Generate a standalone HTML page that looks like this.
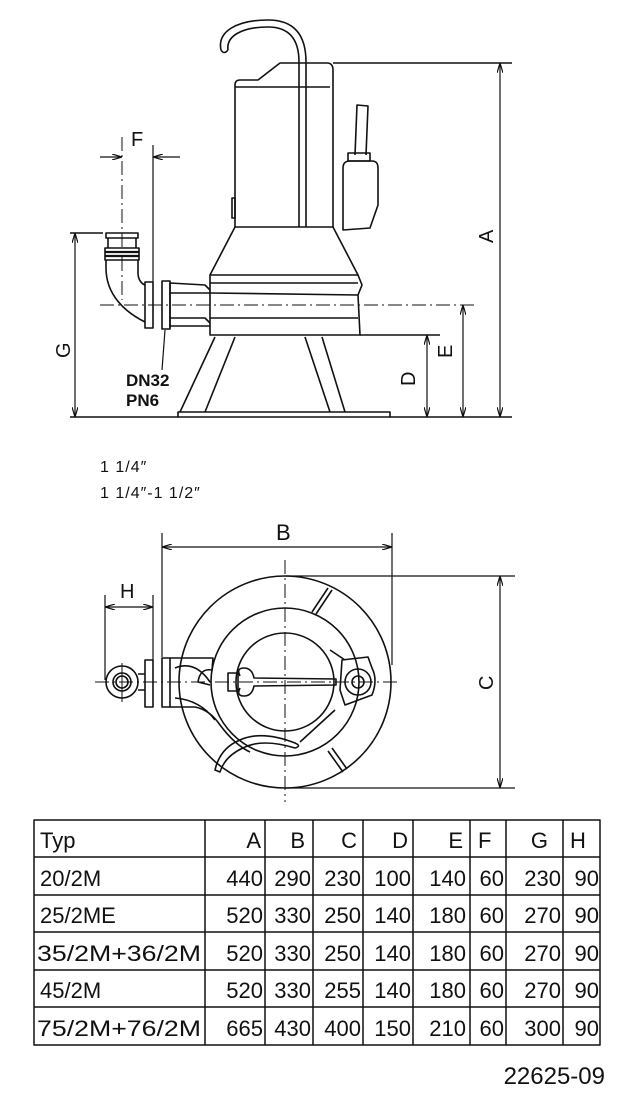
<!DOCTYPE html>
<html><head><meta charset="utf-8"><style>
html,body{margin:0;padding:0;background:#fff;width:631px;height:1095px;overflow:hidden}
svg{display:block}
text{font-family:"Liberation Sans",sans-serif;fill:#111}
</style></head><body>
<svg width="631" height="1095" viewBox="0 0 631 1095" xmlns="http://www.w3.org/2000/svg">
<defs>
<marker id="ar" viewBox="0 0 10 6" refX="10" refY="3" markerWidth="10" markerHeight="6" orient="auto-start-reverse" markerUnits="userSpaceOnUse"><path d="M0,0 L10,3 L0,6" fill="none" stroke="#111" stroke-width="1.2"/></marker>
</defs>
<g fill="none" stroke="#111" stroke-width="1.6" stroke-linejoin="round">
<!-- hook -->
<path d="M221,50 C217,32 236,20 268,20 C295,20 306,36 306,62 L306,227"/>
<path d="M228,50 C226,36 242,27 268,27 C290,27 299,40 299,62 L299,227"/>
<path d="M221,50 Q224,55 228,50"/>
<!-- motor -->
<path d="M235,227 L235,85 Q235,80 240,80 L258,80 L280,63 L327,63 Q333,63 333,70 L333,227 Z"/>
<line x1="235" y1="87" x2="330" y2="87"/>
<path d="M232,198 L235,198 L235,218 L232,218 Z"/>
<!-- cable -->
<path d="M355,155 L357,105 L368,106 L366,155"/>
<path d="M343,230 L343,168 Q343,161 350,161 L372,161 Q378,161 378,168 L378,205 L370,228 Z"/>
<rect x="348" y="153" width="22" height="8"/>
<!-- cone -->
<path d="M235,227 L210,275 L358,275 L333,227"/>
<!-- lower body -->
<path d="M210,275 L210,335 L360,335 L358,295 L362,285 L358,275"/>
<line x1="210" y1="283" x2="358" y2="283"/>
<line x1="210" y1="293" x2="358" y2="295"/>
<line x1="210" y1="318" x2="358" y2="318"/>
<!-- outlet pipe -->
<path d="M170,283 L170,328 M170,283 L205,285 L210,290 M170,293 L210,293 M170,318 L205,318 L210,323 M170,326 L210,326"/>
<rect x="162" y="281" width="8" height="48"/>
<rect x="145" y="282" width="8" height="46"/>
<!-- elbow -->
<path d="M106,256 L106,268 C106,295 125,312 145,322"/>
<path d="M138,256 L138,273 C138,280 142,284 145,285"/>
<rect x="106" y="233" width="32" height="5"/>
<path d="M108,238 L108,248 M136,238 L136,248"/>
<rect x="105" y="248" width="34" height="12" fill="#fff"/>
<path d="M105,252 L139,252 M105,256 L139,256" stroke-width="2.2"/>
<!-- legs -->
<path d="M215,337 L180,412 M235,337 L205,412"/>
<path d="M305,337 L330,412 M322,337 L345,412"/>
<rect x="178" y="412" width="212" height="5"/>
<line x1="360" y1="335" x2="440" y2="335"/>
<line x1="70" y1="417" x2="178" y2="417"/>
<line x1="390" y1="417" x2="512" y2="417"/>
<line x1="333" y1="63" x2="512" y2="63"/>
<line x1="70" y1="233" x2="103" y2="233"/>
<line x1="100" y1="305" x2="475" y2="305" stroke-width="1" stroke-dasharray="14,4,2,4"/>
<line x1="122" y1="137" x2="122" y2="300" stroke-width="1" stroke-dasharray="14,4,2,4"/>
<line x1="153" y1="145" x2="153" y2="282" stroke-width="1.2"/>
<line x1="100" y1="157" x2="122" y2="157" marker-end="url(#ar)" stroke-width="1.2"/>
<line x1="180" y1="157" x2="153" y2="157" marker-end="url(#ar)" stroke-width="1.2"/>
<line x1="500" y1="63" x2="500" y2="417" marker-start="url(#ar)" marker-end="url(#ar)" stroke-width="1.2"/>
<line x1="427" y1="335" x2="427" y2="417" marker-start="url(#ar)" marker-end="url(#ar)" stroke-width="1.2"/>
<line x1="463" y1="305" x2="463" y2="417" marker-start="url(#ar)" marker-end="url(#ar)" stroke-width="1.2"/>
<line x1="75" y1="233" x2="75" y2="417" marker-start="url(#ar)" marker-end="url(#ar)" stroke-width="1.2"/>
<line x1="165" y1="330" x2="162" y2="370" stroke-width="1.2"/>

<!-- BOTTOM VIEW -->
<circle cx="285" cy="682" r="106"/>
<circle cx="285" cy="682" r="74"/>
<circle cx="285" cy="682" r="49"/>
<path d="M312,612 L328,588 M316,614 L332,590"/>
<path d="M328,751 L343,772 M332,748 L347,769"/>
<rect x="162" y="658" width="8" height="49"/>
<rect x="145" y="660" width="8" height="47"/>
<path d="M170,658 L213,658 L212,670 Q200,668 198,682 L210,685 M170,707 L195,707 Q210,710 220,725 Q235,745 250,752"/>
<path d="M175,668 Q195,660 210,682 M175,698 Q200,700 215,720"/>
<circle cx="122" cy="682" r="16"/>
<circle cx="122" cy="682" r="9"/>
<circle cx="122" cy="682" r="6"/>
<path d="M138,674 L145,674 M138,690 L145,690"/>
<path d="M240,676 Q236,668 244,668 Q252,668 254,678 L336,679 L336,685 L254,686 Q252,696 244,696 Q236,696 240,688"/>
<rect x="228" y="673" width="10" height="18"/>
<path d="M342,660 L368,657 L372,668 Q378,680 372,695 L345,705 L340,690 Z"/>
<circle cx="358" cy="682" r="13"/>
<circle cx="358" cy="682" r="6"/>
<path d="M330,650 L345,660 M335,710 L300,742"/>
<path d="M215,770 Q220,748 240,740 Q262,730 295,743 Q302,746 295,748 Q262,738 243,748 Q225,756 220,772 Z"/>
<line x1="95" y1="682" x2="400" y2="682" stroke-width="1" stroke-dasharray="14,4,2,4"/>
<line x1="285" y1="560" x2="285" y2="802" stroke-width="1" stroke-dasharray="14,4,2,4"/>
<line x1="122" y1="663" x2="122" y2="702" stroke-width="1"/>
<line x1="162" y1="533" x2="162" y2="657" stroke-width="1.2"/>
<line x1="392" y1="533" x2="392" y2="665" stroke-width="1.2"/>
<line x1="162" y1="547" x2="392" y2="547" marker-start="url(#ar)" marker-end="url(#ar)" stroke-width="1.2"/>
<line x1="285" y1="576" x2="515" y2="576" stroke-width="1.2"/>
<line x1="285" y1="788" x2="515" y2="788" stroke-width="1.2"/>
<line x1="500" y1="576" x2="500" y2="788" marker-start="url(#ar)" marker-end="url(#ar)" stroke-width="1.2"/>
<line x1="105" y1="595" x2="105" y2="680" stroke-width="1.2"/>
<line x1="153" y1="595" x2="153" y2="660" stroke-width="1.2"/>
<line x1="105" y1="607" x2="153" y2="607" marker-start="url(#ar)" marker-end="url(#ar)" stroke-width="1.2"/>

<!-- TABLE -->
<rect x="34" y="820" width="566" height="225" stroke-width="1.5"/>
<path d="M34,857 H600 M34,895 H600 M34,932 H600 M34,970 H600 M34,1007 H600" stroke-width="1.5"/>
<path d="M205,820 V1045 M265,820 V1045 M313,820 V1045 M363,820 V1045 M413,820 V1045 M470,820 V1045 M506,820 V1045 M563,820 V1045" stroke-width="1.5"/>
</g>

<g font-size="20">
<text x="131" y="146">F</text>
<text x="276" y="540" font-size="22">B</text>
<text x="120" y="598">H</text>
<text transform="translate(493,243) rotate(-90)">A</text>
<text transform="translate(415,386) rotate(-90)">D</text>
<text transform="translate(452,358) rotate(-90)">E</text>
<text transform="translate(70,358) rotate(-90)">G</text>
<text transform="translate(493,690) rotate(-90)">C</text>
</g>
<text x="126" y="386" font-size="17" font-weight="bold">DN32</text>
<text x="126" y="406" font-size="17" font-weight="bold">PN6</text>
<text x="100" y="472" font-size="16" letter-spacing="1">1  1/4″</text>
<text x="100" y="498" font-size="16" letter-spacing="1">1  1/4″-1  1/2″</text>

<g font-size="22">
<text x="40" y="848">Typ</text>
<text x="40" y="886">20/2M</text>
<text x="40" y="923">25/2ME</text>
<text x="37" y="961" textLength="164" lengthAdjust="spacingAndGlyphs">35/2M+36/2M</text>
<text x="40" y="998">45/2M</text>
<text x="37" y="1036" textLength="164" lengthAdjust="spacingAndGlyphs">75/2M+76/2M</text>
</g>
<g font-size="22" text-anchor="end">
<text x="261" y="848">A</text><text x="305" y="848">B</text><text x="357" y="848">C</text><text x="408" y="848">D</text><text x="463" y="848">E</text><text x="478" y="848" text-anchor="start">F</text><text x="548" y="848">G</text><text x="570" y="848" text-anchor="start">H</text>
</g>
<g font-size="22" text-anchor="end">
<text x="263" y="886">440</text><text x="311" y="886">290</text><text x="361" y="886">230</text><text x="411" y="886">100</text><text x="466" y="886">140</text><text x="504" y="886">60</text><text x="561" y="886">230</text><text x="599" y="886">90</text>
<text x="263" y="923">520</text><text x="311" y="923">330</text><text x="361" y="923">250</text><text x="411" y="923">140</text><text x="466" y="923">180</text><text x="504" y="923">60</text><text x="561" y="923">270</text><text x="599" y="923">90</text>
<text x="263" y="961">520</text><text x="311" y="961">330</text><text x="361" y="961">250</text><text x="411" y="961">140</text><text x="466" y="961">180</text><text x="504" y="961">60</text><text x="561" y="961">270</text><text x="599" y="961">90</text>
<text x="263" y="998">520</text><text x="311" y="998">330</text><text x="361" y="998">255</text><text x="411" y="998">140</text><text x="466" y="998">180</text><text x="504" y="998">60</text><text x="561" y="998">270</text><text x="599" y="998">90</text>
<text x="263" y="1036">665</text><text x="311" y="1036">430</text><text x="361" y="1036">400</text><text x="411" y="1036">150</text><text x="466" y="1036">210</text><text x="504" y="1036">60</text><text x="561" y="1036">300</text><text x="599" y="1036">90</text>
</g>
<text x="605" y="1084" font-size="24" text-anchor="end">22625-09</text>
</svg>
</body></html>
